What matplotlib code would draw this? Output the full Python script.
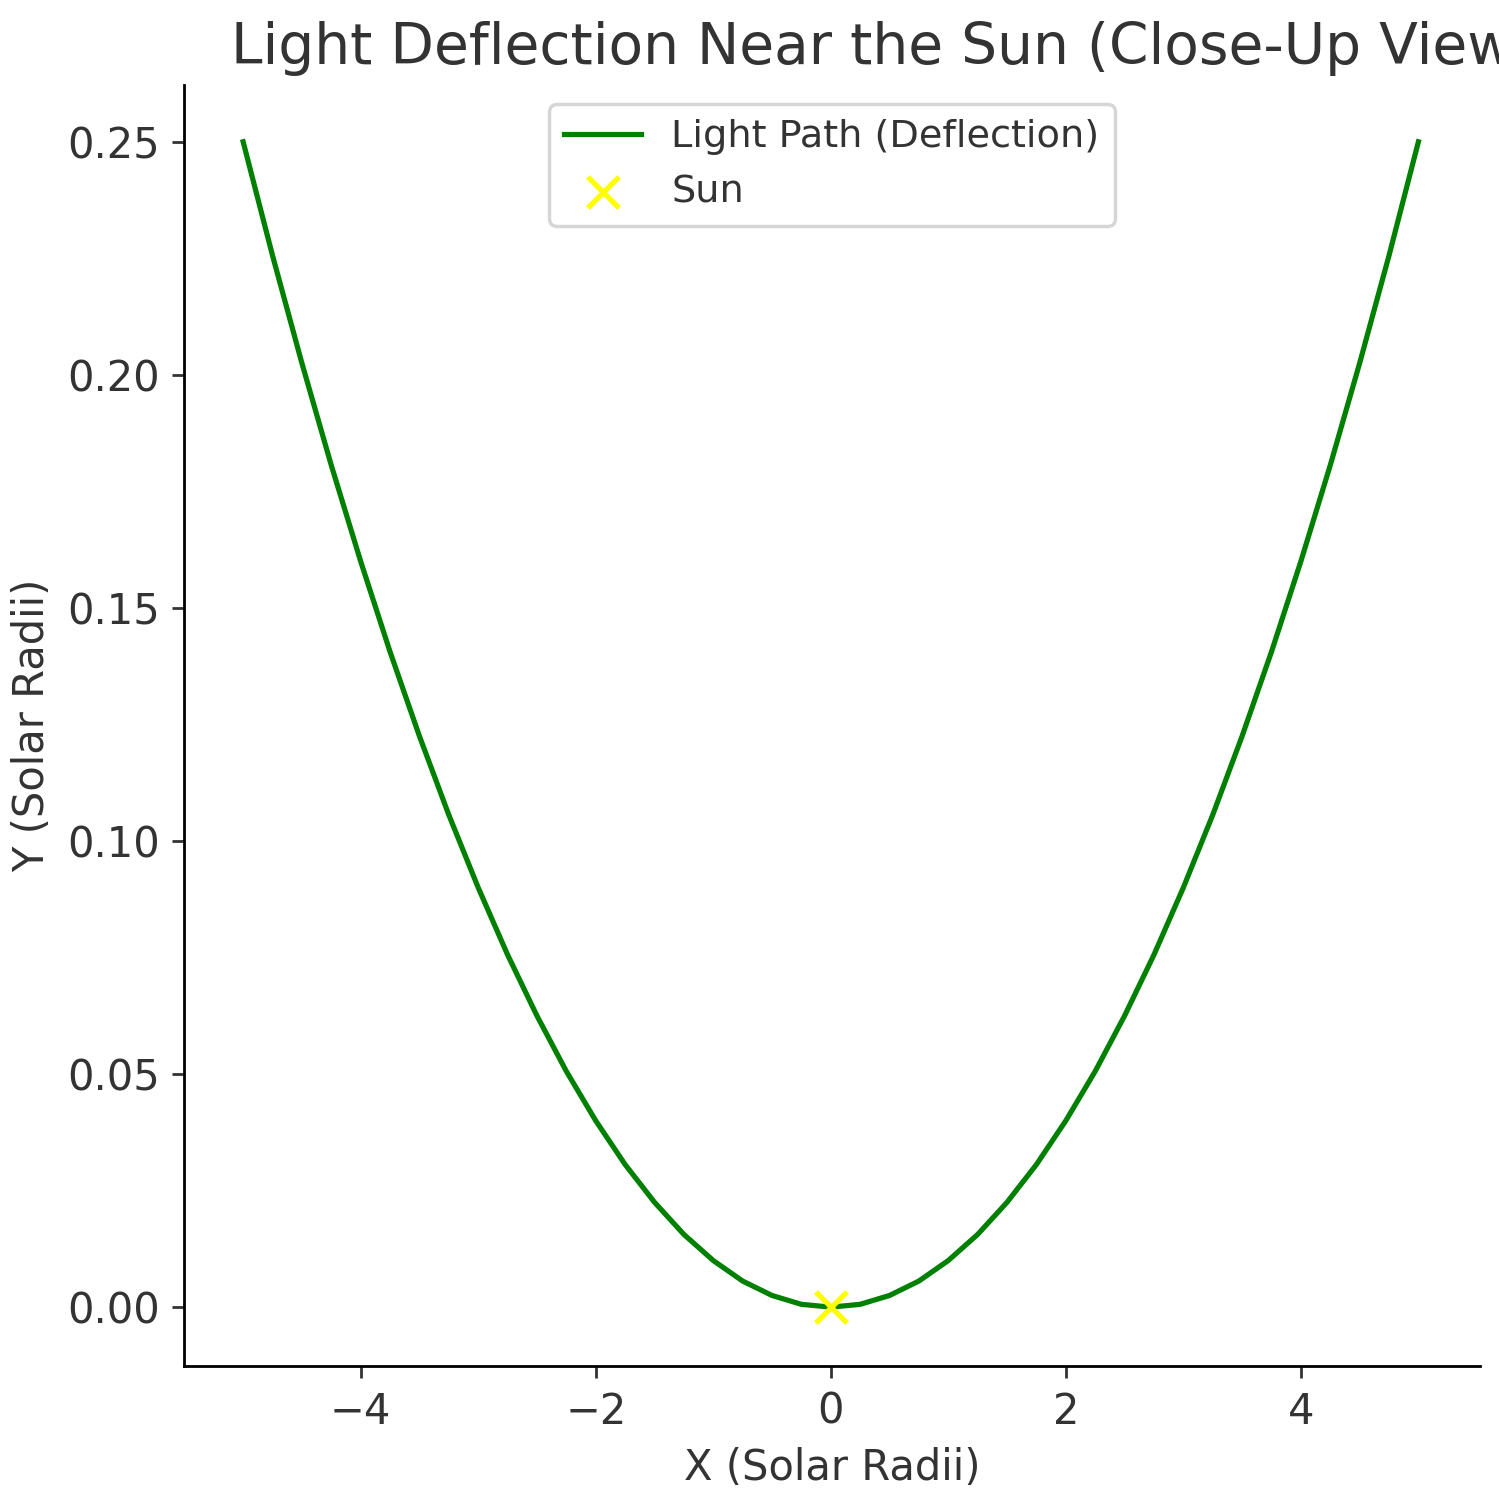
import matplotlib
matplotlib.use("Agg")
import matplotlib.pyplot as plt

x_vals = [-5.0, -4.75, -4.5, -4.25, -4.0, -3.75, -3.5, -3.25, -3.0, -2.75, -2.5, -2.25,
          -2.0, -1.75, -1.5, -1.25, -1.0, -0.75, -0.5, -0.25, 0.0,
          0.25, 0.5, 0.75, 1.0, 1.25, 1.5, 1.75, 2.0, 2.25, 2.5, 2.75,
          3.0, 3.25, 3.5, 3.75, 4.0, 4.25, 4.5, 4.75, 5.0]
y_vals = [0.25, 0.2256, 0.2025, 0.1806, 0.16, 0.1406, 0.1225, 0.1056, 0.09, 0.0756, 0.0625, 0.0506,
          0.04, 0.0306, 0.0225, 0.0156, 0.01, 0.0056, 0.0025, 0.0006, 0.0,
          0.0006, 0.0025, 0.0056, 0.01, 0.0156, 0.0225, 0.0306, 0.04, 0.0506, 0.0625, 0.0756,
          0.09, 0.1056, 0.1225, 0.1406, 0.16, 0.1806, 0.2025, 0.2256, 0.25]
sun_x, sun_y = [0.0], [0.0]

plt.rcParams['text.color'] = '#333333'
plt.rcParams['axes.labelcolor'] = '#333333'
plt.rcParams['xtick.color'] = '#333333'
plt.rcParams['ytick.color'] = '#333333'

fig, ax = plt.subplots(figsize=(5.996, 5.96), dpi=250)
fig.subplots_adjust(left=0.123, right=0.987, top=0.943, bottom=0.083)

ax.plot(x_vals, y_vals, color='green', lw=1.5, label='Light Path (Deflection)')
ax.scatter(sun_x, sun_y, color='yellow', marker='x', s=80, zorder=3, label='Sun')

ax.set_xlim(-5.5, 5.52)
ax.set_ylim(-0.0127, 0.2622)
ax.set_xticks([-4, -2, 0, 2, 4])
ax.set_yticks([0.0, 0.05, 0.1, 0.15, 0.2, 0.25])
ax.set_yticklabels(['0.00', '0.05', '0.10', '0.15', '0.20', '0.25'])
ax.tick_params(labelsize=12)
ax.spines['top'].set_visible(False)
ax.spines['right'].set_visible(False)

ax.set_xlabel('X (Solar Radii)', fontsize=12)
ax.set_ylabel('Y (Solar Radii)', fontsize=12)
ax.set_title('Light Deflection Near the Sun (Close-Up View)', fontsize=16.3, x=0.54)
ax.legend(loc='upper center', fontsize=11)

fig.savefig('out.png')
